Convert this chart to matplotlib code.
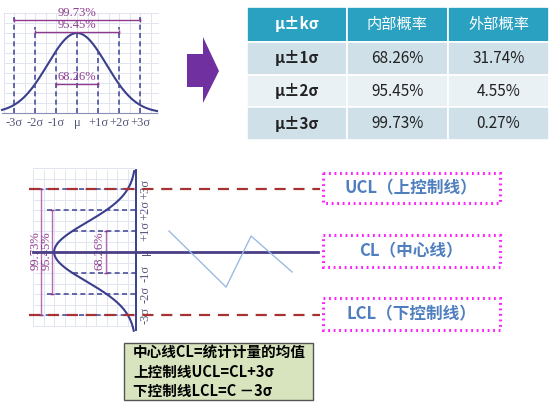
import numpy as np
import matplotlib.pyplot as plt
from matplotlib.patches import Rectangle, Polygon

plt.rcParams['font.family'] = ['Noto Sans CJK SC', 'DejaVu Sans']

# données
sigma_k = [-3, -2, -1, 0, 1, 2, 3]
sigma_labels = ['-3σ', '-2σ', '-1σ', 'μ', '+1σ', '+2σ', '+3σ']
cover_k = [3, 2, 1]
cover_txt = ['99.73%', '95.45%', '68.26%']

table_header = ['μ±kσ', '内部概率', '外部概率']
table_rows = [['μ±1σ', '68.26%', '31.74%'],
              ['μ±2σ', '95.45%', '4.55%'],
              ['μ±3σ', '99.73%', '0.27%']]

zigzag_x = [1.57, 4.29, 5.48, 7.43]
zigzag_s = [1.0, -1.67, 0.76, -0.95]

limit_k = [3, 0, -3]
limit_labels = ['UCL（上控制线）', 'CL（中心线）', 'LCL（下控制线）']

formula_lines = ['中心线CL=统计计量的均值', '上控制线UCL=CL+3σ', '下控制线LCL=C －3σ']

W, H = 556, 405
curve_w = 1.4  # largeur dessinée de la cloche
c_curve = '#3a3f8c'
c_dash = '#4b4f9a'
c_purple = '#8e3b8e'
c_tick = '#55577a'
c_grid = '#e0e5ef'
serif = 'Liberation Serif'

fig = plt.figure(figsize=(W / 100, H / 100), dpi=100)
bg = fig.add_axes([0, 0, 1, 1])
bg.set_xlim(0, W)
bg.set_ylim(H, 0)
bg.axis('off')


def px_axes(x0, y0, x1, y1):
    a = fig.add_axes([x0 / W, 1 - y1 / H, (x1 - x0) / W, (y1 - y0) / H])
    a.axis('off')
    return a


def bell(t):
    return np.exp(-np.asarray(t) ** 2 / (2 * curve_w ** 2))


# ---- cloche en haut à gauche (x en sigma, y = hauteur relative) ----
ax1 = px_axes(0, 10, 160, 129)
ax1.set_xlim(-3.667, 3.952)
ax1.set_ylim(-0.2, 1.2875)
for gx in np.arange(-3.5, 3.6, 0.5):
    ax1.plot([gx, gx], [0, 1.25], color=c_grid, lw=0.7, zorder=0)
for gy in np.arange(0, 1.3, 0.125):
    ax1.plot([-3.5, 3.85], [gy, gy], color=c_grid, lw=0.7, zorder=0)
t = np.linspace(-3.57, 3.81, 300)
ax1.plot(t, bell(t), color=c_curve, lw=1.5)
ax1.plot([-3.57, 3.81], [0, 0], color='#8a8fb8', lw=0.8)
tops = {3: 1.2, 2: 1.075}
for k, lab in zip(sigma_k, sigma_labels):
    top = tops.get(abs(k), float(bell(k)))
    ax1.plot([k, k], [0, top], color=c_dash, lw=1.2, ls=(0, (3, 2)))
    ax1.text(k, -0.13, lab, ha='center', va='center', fontsize=9,
             color=c_tick, family=serif)
cover_y = {3: 1.1625, 2: 1.0125, 1: 0.3625}
for k, txt in zip(cover_k, cover_txt):
    yy = cover_y[k]
    ax1.plot([-k, k], [yy, yy], color=c_purple, lw=1, marker='|', ms=3)
    ax1.text(0, yy + 0.01, txt, ha='center', va='bottom', fontsize=9,
             color=c_purple, family=serif)

# ---- flèche ----
bg.add_patch(Polygon([(187, 54), (203, 54), (203, 37), (219, 71),
                      (203, 103), (203, 87), (187, 87)], closed=True,
                     facecolor='#7030a0', edgecolor='none'))

# ---- tableau ----
col_x = [247, 347, 448, 549]
row_y = [7, 42, 75, 107, 140]
row_fill = ['#2aa1c0', '#cfe0e8', '#e9f1f5', '#cfe0e8']
for r in range(4):
    for c in range(3):
        bg.add_patch(Rectangle((col_x[c], row_y[r]), col_x[c + 1] - col_x[c],
                               row_y[r + 1] - row_y[r], facecolor=row_fill[r],
                               edgecolor='white', lw=1.2))
        if r == 0:
            txt, col = table_header[c], 'white'
        else:
            txt, col = table_rows[r - 1][c], '#222222'
        bold = 'bold' if c == 0 else 'normal'
        bg.text((col_x[c] + col_x[c + 1]) / 2, (row_y[r] + row_y[r + 1]) / 2,
                txt, ha='center', va='center', fontsize=11, color=col,
                fontweight=bold)

# ---- carte de contrôle (x en unités de 21 px, y en sigma) ----
ax2 = px_axes(20, 160, 330, 340)
ax2.set_xlim(-5.524, 9.238)
ax2.set_ylim(-4.19, 4.381)
for gx in np.arange(-4.9, 0, 0.5):
    ax2.plot([gx, gx], [-3.5, 3.9], color=c_grid, lw=0.7, zorder=0)
for gy in np.arange(-3.5, 4.1, 0.5):
    ax2.plot([-4.9, -0.1], [gy, gy], color=c_grid, lw=0.7, zorder=0)
s = np.linspace(-3.75, 3.85, 300)
ax2.plot(-3.9 * bell(s), s, color=c_curve, lw=1.5, zorder=3)
ax2.plot([0, 0], [-3.71, 3.9], color=c_curve, lw=1.4, zorder=3)
left_end = {3: -5.095, 2: -4.238}
for k, lab in zip(sigma_k, sigma_labels):
    x0 = left_end.get(abs(k), -3.9 * float(bell(k)))
    if k != 0:
        ax2.plot([x0, 0], [k, k], color=c_dash, lw=1.2, ls=(0, (3, 2)), zorder=2)
    ax2.text(0.45, k, lab, ha='center', va='center', rotation=90,
             fontsize=9, color=c_tick, family=serif)
cover_x = {3: (-4.524, -4.78), 2: (-4.0, -4.26), 1: (-1.43, -1.76)}
for k, txt in zip(cover_k, cover_txt):
    lx, tx = cover_x[k]
    ax2.plot([lx, lx], [-k, k], color='#b36bb3', lw=1, marker='_', ms=3,
             mec=c_purple)
    ax2.text(tx, 0.05, txt, ha='center', va='center', rotation=90,
             fontsize=9, color=c_purple, family=serif)
for k in limit_k:
    if k == 0:
        ax2.plot([-4.905, 8.667], [0, 0], color='#4b3f86', lw=2, zorder=4)
    else:
        ax2.plot([-5.095, 8.762], [k, k], color='#a83232', lw=1.6,
                 ls=(0, (5, 3.5)), zorder=4)
ax2.plot(zigzag_x, zigzag_s, color='#9bbbe3', lw=1, zorder=5)

# ---- étiquettes des limites ----
box_y = {3: (173, 203), 0: (235, 267), -3: (298, 330)}
for k, lab in zip(limit_k, limit_labels):
    y0, y1 = box_y[k]
    bg.add_patch(Rectangle((323, y0), 177, y1 - y0, facecolor='white',
                           edgecolor='#ff22ff', lw=2.2, ls=(0, (0.6, 1.2))))
    bg.text(411, (y0 + y1) / 2, lab, ha='center', va='center', fontsize=12,
            color='#4f7fbf', fontweight='bold')

# ---- formules ----
bg.add_patch(Rectangle((124, 343), 189, 57, facecolor='#d8e4bd',
                       edgecolor='#555555', lw=1))
for i, line in enumerate(formula_lines):
    bg.text(133, 352 + i * 19.5, line, ha='left', va='center', fontsize=10.5,
            color='black', fontweight='bold')

fig.savefig('out.png', dpi=100)
